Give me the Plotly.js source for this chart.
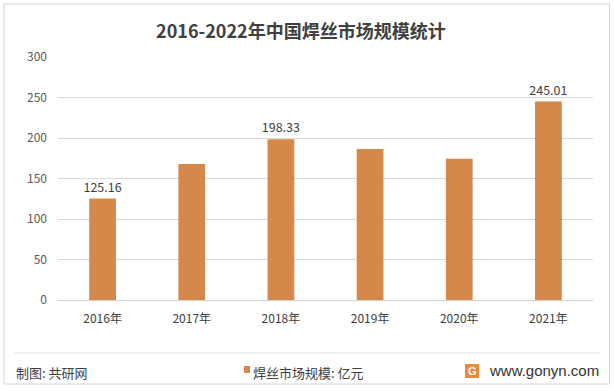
<!DOCTYPE html>
<html>
<head>
<meta charset="utf-8">
<script src="https://cdn.plot.ly/plotly-3.0.1.min.js"></script>
<style>
html,body{margin:0;padding:0;background:#fff;}
#chart{width:614px;height:391px;}
</style>
</head>
<body>
<div id="chart"></div>
<script>
const categories = ['2016年','2017年','2018年','2019年','2020年','2021年'];
const marketSize = [125.16, 168, 198.33, 186.3, 174.3, 245.01];
const valueLabels = ['125.16', '', '198.33', '', '', '245.01'];
const yTicks = [0, 50, 100, 150, 200, 250, 300];
const titleText = '2016-2022年中国焊丝市场规模统计';
const sourceText = '制图: 共研网';
const legendText = '焊丝市场规模: 亿元';
const siteText = 'www.gonyn.com';

const W = 614, H = 391;
const M = {l: 58, r: 21, t: 57, b: 91};
const pw = W - M.l - M.r, ph = H - M.t - M.b;
const px = x => (x - M.l) / pw;
const py = y => (H - M.b - y) / ph;

const barColor = '#D4894A';
const cjk = '"Noto Sans CJK SC", "Noto Sans", sans-serif';

const trace = {
  type: 'bar',
  x: categories,
  y: marketSize,
  text: valueLabels,
  textposition: 'outside',
  constraintext: 'none',
  textfont: {family: cjk, size: 12.5, color: '#404040'},
  cliponaxis: false,
  marker: {color: barColor},
  hoverinfo: 'none',
  showlegend: false
};

const layout = {
  width: W, height: H,
  margin: M,
  paper_bgcolor: '#ffffff',
  plot_bgcolor: '#ffffff',
  bargap: 0.7,
  font: {family: cjk, color: '#595959'},
  title: {text: '<b>' + titleText + '</b>', font: {family: cjk, size: 18, color: '#404040'},
          x: 0.49, xanchor: 'center', y: 1 - 32 / H, yanchor: 'middle'},
  xaxis: {
    type: 'category',
    tickfont: {family: cjk, size: 12, color: '#404040'},
    showgrid: false,
    showline: true, linecolor: '#d0d0d0', linewidth: 1,
    ticks: '', ticklabelstandoff: 8, fixedrange: true
  },
  yaxis: {
    range: [0, 300],
    tickvals: yTicks,
    tickfont: {family: cjk, size: 12, color: '#595959'},
    showgrid: true, gridcolor: '#d9d9d9', gridwidth: 1,
    zeroline: false, showline: false,
    ticks: '', ticklabelstandoff: 10, fixedrange: true
  },
  shapes: [
    {type: 'rect', xref: 'paper', yref: 'paper', x0: px(4), x1: px(609.5), y0: py(4), y1: py(384),
     line: {color: '#d4d4d4', width: 1}, fillcolor: 'rgba(0,0,0,0)', layer: 'below'},
    {type: 'line', xref: 'paper', yref: 'paper', x0: px(14), x1: px(600), y0: py(353), y1: py(353),
     line: {color: '#e6e6e6', width: 1}},
    {type: 'rect', xref: 'paper', yref: 'paper', x0: px(244), x1: px(250), y0: py(366), y1: py(373),
     line: {width: 0}, fillcolor: barColor},
    {type: 'rect', xref: 'paper', yref: 'paper', x0: px(465), x1: px(479), y0: py(364), y1: py(378),
     line: {width: 0}, fillcolor: '#EF8A3C'}
  ],
  annotations: [
    {xref: 'paper', yref: 'paper', x: px(14), y: py(372), xanchor: 'left', yanchor: 'middle',
     text: sourceText, showarrow: false, font: {family: cjk, size: 13, color: '#404040'}},
    {xref: 'paper', yref: 'paper', x: px(251), y: py(372), xanchor: 'left', yanchor: 'middle',
     text: legendText, showarrow: false, font: {family: cjk, size: 13, color: '#404040'}},
    {xref: 'paper', yref: 'paper', x: px(472), y: py(371), xanchor: 'center', yanchor: 'middle',
     text: '<b>G</b>', showarrow: false, font: {family: 'Liberation Sans, sans-serif', size: 11, color: '#ffffff'}},
    {xref: 'paper', yref: 'paper', x: px(487), y: py(370), xanchor: 'left', yanchor: 'middle',
     text: siteText, showarrow: false, font: {family: 'Liberation Sans, Arial, sans-serif', size: 15, color: '#333333'}}
  ]
};

Plotly.newPlot('chart', [trace], layout, {displayModeBar: false, staticPlot: true});
</script>
</body>
</html>
